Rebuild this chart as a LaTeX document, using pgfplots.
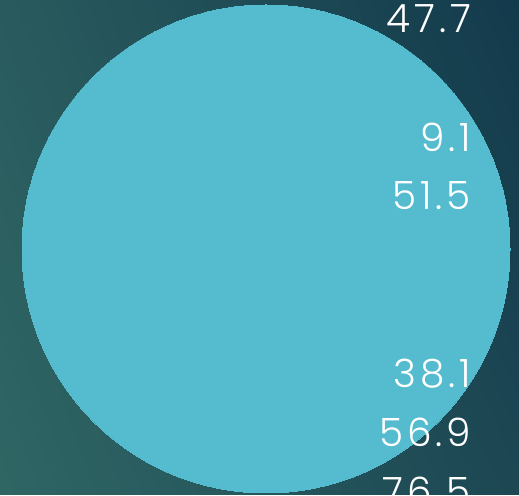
\documentclass[border=0pt]{standalone}
\usepackage{pgfplots}
\pgfplotsset{compat=1.18}
\usetikzlibrary{shadings}
\usepackage{fontspec}
\setmainfont{Poppins}[UprightFont=* Light, LetterSpace=10]
\definecolor{bubble}{HTML}{55BBCE}
\definecolor{bgUL}{HTML}{295B5E}
\definecolor{bgUR}{HTML}{133A4C}
\definecolor{bgLL}{HTML}{2F6664}
\definecolor{bgLR}{HTML}{1C4753}
\begin{document}
\begin{tikzpicture}
\begin{axis}[
  width=519pt, height=495pt, scale only axis,
  xmin=0, xmax=519, ymin=0, ymax=495,
  hide axis, enlargelimits=false,
]
\shade[upper left=bgUL, upper right=bgUR, lower left=bgLL, lower right=bgLR]
  (axis cs:0,0) rectangle (axis cs:519,495);
\addplot[only marks, mark=*, mark size=244pt, mark options={fill=bubble, draw=bubble, line width=0pt}]
  coordinates {(266,246)};
\addplot[draw=none, mark=none, point meta=explicit symbolic,
  nodes near coords,
  nodes near coords align={center},
  every node near coord/.append style={anchor=east, text=white, inner sep=0pt, font=\fontsize{39}{41}\selectfont},
] table[meta=label] {
x y label
471 476.5 47.7
471 358 9.1
471 299 51.5
471 121 38.1
471 63 56.9
471 4 76.5
};
\end{axis}
\pgfresetboundingbox
\path (0,0) rectangle (519pt,495pt);
\end{tikzpicture}
\end{document}
